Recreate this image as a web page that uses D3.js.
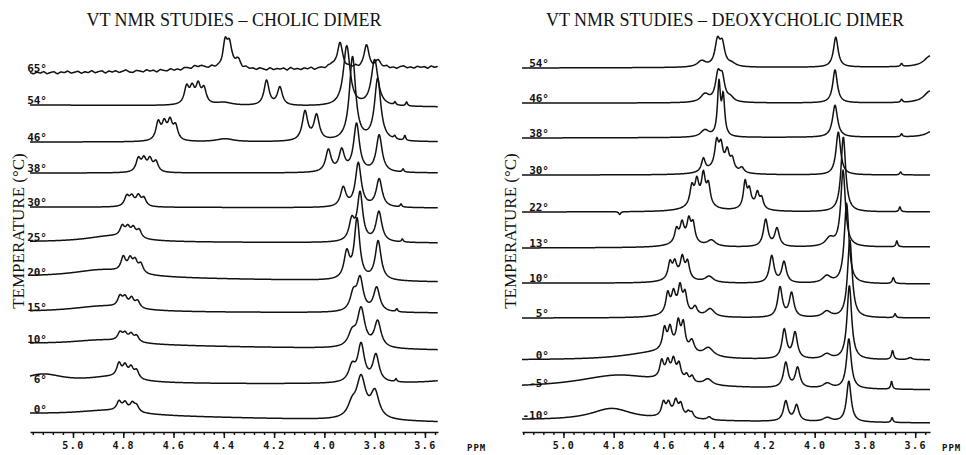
<!DOCTYPE html>
<html>
<head>
<meta charset="utf-8">
<script src="https://cdn.jsdelivr.net/npm/d3@7"></script>
<style>
  body { margin: 0; background: #fff; }
  svg { display: block; }
</style>
</head>
<body>
<div id="chart"></div>
<script>
// ppm axis labels
const ppmTicks = [5.0, 4.8, 4.6, 4.4, 4.2, 4.0, 3.8, 3.6];

// cholic dimer: one trace per temperature, baseline level at each end + peaks [ppm, height, half-width]
const cholicTemps = ["65°", "54°", "46°", "38°", "30°", "25°", "20°", "15°", "10°", "6°", "0°"];
const cholicBaseLeft = [367, 335, 298, 267, 233, 198, 163, 128, 96, 56, 26];
const cholicBaseRight = [373, 333, 298, 267, 232, 197, 158, 127, 90, 56, 18];
const cholicPeaks = [
  [[4.50, 4, 0.06], [4.395, 24, 0.011], [4.378, 22, 0.011], [4.345, 9, 0.014], [3.97, 4, 0.01], [3.938, 25, 0.012], [3.832, 22, 0.012], [3.786, 6, 0.012]],
  [[4.548, 17, 0.011], [4.526, 15, 0.011], [4.502, 18, 0.011], [4.479, 15, 0.011], [4.40, 3, 0.04], [4.23, 25, 0.012], [4.177, 18, 0.012], [3.911, 60, 0.016], [3.80, 46, 0.016], [3.719, 3, 0.004], [3.673, 4, 0.004]],
  [[4.661, 18, 0.011], [4.637, 16, 0.011], [4.614, 18, 0.011], [4.592, 14, 0.011], [4.395, 3, 0.04], [4.077, 29, 0.013], [4.031, 25, 0.013], [3.888, 84, 0.015], [3.788, 62, 0.015], [3.72, 3, 0.005], [3.68, 5, 0.004]],
  [[4.74, 13, 0.011], [4.718, 12, 0.011], [4.694, 12, 0.011], [4.67, 10, 0.011], [3.984, 22, 0.013], [3.931, 21, 0.013], [3.872, 48, 0.014], [3.782, 37, 0.014], [3.687, 3, 0.004]],
  [[4.786, 10, 0.011], [4.766, 9, 0.011], [4.74, 10, 0.011], [4.718, 8, 0.011], [3.925, 19, 0.013], [3.865, 44, 0.014], [3.782, 28, 0.014], [3.695, 3, 0.004]],
  [[4.85, 6, 0.12], [4.804, 10, 0.011], [4.782, 9, 0.011], [4.76, 9, 0.011], [4.737, 8, 0.011], [3.891, 20, 0.013], [3.858, 48, 0.013], [3.783, 30, 0.014], [3.69, 3, 0.004]],
  [[4.88, 8, 0.15], [4.80, 14, 0.011], [4.773, 12, 0.011], [4.753, 11, 0.011], [4.73, 9, 0.011], [3.911, 26, 0.013], [3.87, 60, 0.013], [3.786, 39, 0.014]],
  [[4.88, 6, 0.15], [4.813, 10, 0.011], [4.793, 9, 0.011], [4.767, 9, 0.011], [4.743, 7, 0.011], [3.885, 17, 0.015], [3.858, 32, 0.015], [3.792, 24, 0.015], [3.712, 3, 0.004]],
  [[4.88, 5, 0.15], [4.813, 8, 0.011], [4.793, 7, 0.011], [4.769, 7, 0.011], [4.747, 6, 0.011], [3.89, 13, 0.018], [3.854, 38, 0.018], [3.788, 26, 0.016]],
  [[5.12, 9, 0.1], [4.85, 6, 0.12], [4.817, 13, 0.011], [4.793, 11, 0.011], [4.769, 10, 0.011], [4.747, 8, 0.011], [3.89, 15, 0.016], [3.854, 37, 0.016], [3.795, 27, 0.015], [3.715, 3, 0.004], [3.45, 5, 0.12]],
  [[4.86, 5, 0.15], [4.817, 9, 0.011], [4.793, 8, 0.011], [4.764, 8, 0.011], [4.747, 6, 0.011], [3.89, 12, 0.02], [3.854, 40, 0.022], [3.799, 26, 0.02]]
];
// baseline noise of the 65° trace, read left to right
const cholicNoise65 = [0.5, -1, 0.8, -0.3, 1.2, -1.1, 0.2, 0.9, -1.4, 0.6, -0.2, 1.3, -0.8, 0, 1, -1.2, 0.4, -0.6, 1.4, -0.9,
  0.3, 1.1, -1.3, 0.7, -0.4, 0.9, -1, 0.2, 1.5, -0.7, -1.2, 0.8, 0.1, -0.9, 1.2, -0.3, 0.6, -1.4, 1, -0.1,
  -0.8, 1.3, -0.5, 0.4, -1.1, 0.9, 0.2, -1.3, 1.1, -0.6, 0.7, -0.2, -1, 1.4, -0.4, 0.3, -1.2, 0.8, 0, 1.1,
  -0.9, 0.5, -1.4, 1.2, -0.3, 0.6, -0.8, 1, 0.1, -1.1, 1.3, -0.7, 0.4, -0.2, 0.9, -1.3, 1.5, -0.5, 0.2, -1,
  0.7, -0.4, 1.2, -1.2, 0.3, 0.8, -0.6, 1, -1.4, 0.5, -0.1, 1.1, -0.9, 0.6, -0.3, 1.3, -1.1, 0.2, 0.9, -0.7,
  -1.3, 1, 0.4, -0.5, 1.2, -0.8, 0.1, -1.2, 0.7, 1.4, -0.6, 0.3, -1, 0.9, -0.2, 0.5, -1.3, 1.1, -0.4, 0.6];

// deoxycholic dimer
const deoxyTemps = ["54°", "46°", "38°", "30°", "22°", "13°", "10°", "5°", "0°", "-5°", "-10°"];
const deoxyBaseLeft = [372, 337, 302, 265, 228, 192, 157, 122, 80, 52, 20];
const deoxyBaseRight = [373, 337, 303, 265, 228, 193, 156, 122, 80, 50, 17];
const deoxyPeaks = [
  [[4.45, 6, 0.02], [4.387, 24, 0.012], [4.368, 21, 0.012], [4.33, 3, 0.02], [3.916, 30, 0.011], [3.654, 3, 0.004], [3.54, 11, 0.03]],
  [[4.437, 8, 0.02], [4.385, 25, 0.012], [4.368, 22, 0.012], [4.335, 4, 0.015], [3.919, 33, 0.011], [3.654, 3, 0.004], [3.54, 12, 0.03]],
  [[4.437, 7, 0.02], [4.381, 52, 0.007], [4.364, 38, 0.007], [3.919, 32, 0.012], [3.654, 3, 0.004], [3.53, 6, 0.03]],
  [[4.38, 8, 0.05], [4.443, 13, 0.009], [4.39, 24, 0.009], [4.373, 20, 0.009], [4.348, 17, 0.009], [4.328, 11, 0.009], [4.29, 5, 0.01], [3.906, 43, 0.011], [3.658, 3, 0.004]],
  [[4.46, 8, 0.05], [4.489, 18, 0.009], [4.469, 21, 0.009], [4.443, 28, 0.009], [4.423, 20, 0.009], [4.25, 5, 0.04], [4.277, 25, 0.008], [4.26, 15, 0.008], [4.228, 14, 0.008], [4.211, 10, 0.008], [4.776, -3, 0.004], [3.886, 75, 0.011], [3.661, 5, 0.004]],
  [[4.52, 6, 0.05], [4.55, 13, 0.009], [4.528, 17, 0.009], [4.501, 20, 0.009], [4.484, 18, 0.009], [4.411, 6, 0.02], [4.195, 27, 0.011], [4.15, 18, 0.011], [3.94, 8, 0.02], [3.887, 76, 0.011], [3.673, 6, 0.004]],
  [[4.54, 6, 0.05], [4.576, 16, 0.009], [4.557, 14, 0.009], [4.527, 19, 0.009], [4.506, 16, 0.009], [4.42, 6, 0.02], [4.171, 27, 0.011], [4.122, 21, 0.011], [3.952, 7, 0.02], [3.873, 80, 0.011], [3.687, 6, 0.005]],
  [[4.55, 7, 0.05], [4.585, 19, 0.009], [4.562, 17, 0.009], [4.536, 23, 0.009], [4.516, 18, 0.009], [4.476, 8, 0.01], [4.416, 8, 0.02], [4.138, 30, 0.011], [4.092, 24, 0.011], [3.952, 6, 0.02], [3.86, 78, 0.011], [3.68, 4, 0.004]],
  [[4.65, 6, 0.15], [4.56, 8, 0.05], [4.598, 20, 0.009], [4.576, 18, 0.009], [4.543, 24, 0.009], [4.523, 25, 0.009], [4.489, 12, 0.012], [4.423, 9, 0.025], [4.121, 29, 0.011], [4.078, 26, 0.011], [3.952, 5, 0.02], [3.862, 74, 0.011], [3.69, 9, 0.005], [3.62, 2, 0.01]],
  [[4.78, 13, 0.2], [4.57, 6, 0.05], [4.609, 16, 0.009], [4.585, 14, 0.009], [4.562, 16, 0.009], [4.54, 14, 0.009], [4.51, 6, 0.008], [4.488, 6, 0.008], [4.425, 6, 0.02], [4.115, 25, 0.011], [4.068, 20, 0.011], [3.95, 5, 0.02], [3.864, 50, 0.011], [3.694, 8, 0.004]],
  [[4.808, 12, 0.1], [4.56, 5, 0.05], [4.602, 13, 0.009], [4.582, 11, 0.009], [4.553, 13, 0.009], [4.533, 11, 0.009], [4.503, 5, 0.008], [4.489, 5, 0.008], [4.42, 3, 0.01], [4.115, 20, 0.011], [4.072, 16, 0.011], [3.95, 4, 0.02], [3.864, 41, 0.011], [3.692, 5, 0.004]]
];

const W = 966, H = 455;

const svg = d3.select("#chart")
    .append("svg")
    .attr("width", W)
    .attr("height", H);

// shared intensity scale for both panels
const y = d3.scaleLinear().domain([0, 420]).range([440, 20]);

const panels = [
    { title: "VT NMR STUDIES – CHOLIC DIMER", temps: cholicTemps, baseL: cholicBaseLeft, baseR: cholicBaseRight,
      peaks: cholicPeaks, noise: { 0: cholicNoise65 }, domain: [5.171, 3.548], range: [30, 438],
      titleX: 234, ylabX: 24, labelEnd: 47, ppmX: 467 },
    { title: "VT NMR STUDIES – DEOXYCHOLIC DIMER", temps: deoxyTemps, baseL: deoxyBaseLeft, baseR: deoxyBaseRight,
      peaks: deoxyPeaks, noise: {}, domain: [5.165, 3.541], range: [522, 930],
      titleX: 725, ylabX: 516, labelEnd: 549, ppmX: 942 }
];

function intensity(p, i, ppm) {
    const f = (p.domain[0] - ppm) / (p.domain[0] - p.domain[1]);
    let v = p.baseL[i] + (p.baseR[i] - p.baseL[i]) * f;
    p.peaks[i].forEach(function (pk) {
        const d = (ppm - pk[0]) / pk[2];
        v += pk[1] / (1 + d * d);
    });
    const n = p.noise[i];
    if (n) {
        const t = f * (n.length - 1);
        const k = Math.min(Math.floor(t), n.length - 2);
        v += n[k] + (n[k + 1] - n[k]) * (t - k);
    }
    return v;
}

panels.forEach(function (p) {
    const x = d3.scaleLinear().domain(p.domain).range(p.range);
    const g = svg.append("g");

    // title
    g.append("text")
        .attr("x", p.titleX)
        .attr("y", 26)
        .attr("text-anchor", "middle")
        .attr("font-family", "Liberation Serif")
        .attr("font-size", 18)
        .attr("fill", "#111")
        .text(p.title);

    // y axis label
    g.append("text")
        .attr("transform", `translate(${p.ylabX}, 231) rotate(-90)`)
        .attr("text-anchor", "middle")
        .attr("font-family", "Liberation Serif")
        .attr("font-size", 17)
        .attr("fill", "#111")
        .text("TEMPERATURE (°C)");

    // spectra
    const samples = d3.range(p.domain[0], p.domain[1] - 0.0005, -0.002);
    const line = d3.line()
        .x(d => x(d[0]))
        .y(d => y(d[1]));

    p.temps.forEach(function (t, i) {
        const pts = samples.map(s => [s, intensity(p, i, s)]);
        g.append("path")
            .attr("d", line(pts))
            .attr("fill", "none")
            .attr("stroke", "#111")
            .attr("stroke-width", 1.5)
            .attr("stroke-linejoin", "round");

        g.append("text")
            .attr("x", p.labelEnd)
            .attr("y", y(p.baseL[i]) - 1.5)
            .attr("text-anchor", "end")
            .attr("font-family", "DejaVu Sans Mono")
            .attr("font-weight", "bold")
            .attr("font-size", 11)
            .attr("fill", "#111")
            .text(t);
    });

    // ppm axis
    const minor = d3.range(5.16, p.domain[1], -0.04).map(v => Math.round(v * 100) / 100);
    const axisY = 432;
    g.append("g")
        .attr("transform", `translate(0, ${axisY})`)
        .call(d3.axisBottom(x).tickValues(minor).tickSize(3).tickSizeOuter(0).tickFormat(""))
        .call(a => a.select(".domain").attr("stroke", "#111").attr("stroke-width", 1.6))
        .call(a => a.selectAll(".tick line").attr("stroke", "#111").attr("stroke-width", 1.4));

    g.append("g")
        .attr("transform", `translate(0, ${axisY})`)
        .call(d3.axisBottom(x).tickValues(ppmTicks).tickSize(6).tickSizeOuter(0).tickPadding(4).tickFormat(d3.format(".1f")))
        .call(a => a.select(".domain").remove())
        .call(a => a.selectAll(".tick line").attr("stroke", "#111").attr("stroke-width", 1.5))
        .call(a => a.selectAll(".tick text")
            .attr("font-family", "DejaVu Sans Mono")
            .attr("font-weight", "bold")
            .attr("font-size", 10)
            .attr("letter-spacing", 1.5)
            .attr("fill", "#111"));

    g.append("text")
        .attr("x", p.ppmX)
        .attr("y", 451)
        .attr("font-family", "DejaVu Sans Mono")
        .attr("font-weight", "bold")
        .attr("font-size", 9)
        .attr("letter-spacing", 1)
        .attr("fill", "#111")
        .text("PPM");
});
</script>
</body>
</html>
